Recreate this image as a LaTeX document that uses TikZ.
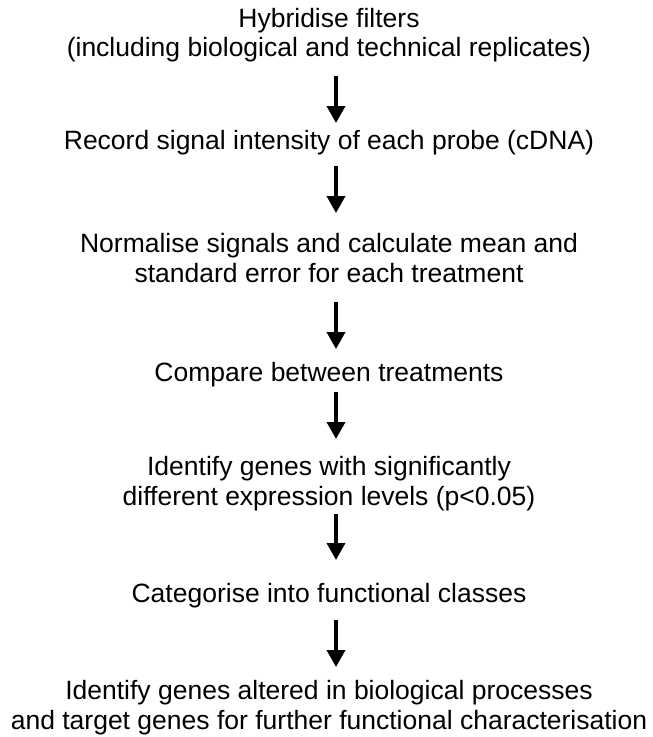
\documentclass[tikz,border=0pt]{standalone}
\usepackage{fontspec}
\setmainfont{Liberation Sans}
\usetikzlibrary{arrows.meta}
\tikzset{
  stepbox/.style={inner sep=0pt, anchor=base, align=center, font=\fontsize{26.5}{29.5}\selectfont},
  flow/.style={line width=3.5pt, -{Triangle[width=18pt,length=17pt]}}
}
\begin{document}
\begin{tikzpicture}[x=1pt,y=1pt]
\useasboundingbox (0,0) rectangle (653,-737);
\node[stepbox] (n1) at (329,-56.5) {Hybridise filters\\(including biological and technical replicates)};
\node[stepbox] (n2) at (329,-149) {Record signal intensity of each probe (cDNA)};
\node[stepbox] (n3) at (329,-282) {Normalise signals and calculate mean and\\standard error for each treatment};
\node[stepbox] (n4) at (329,-381) {Compare between treatments};
\node[stepbox] (n5) at (329,-505) {Identify genes with significantly\\different expression levels (p<0.05)};
\node[stepbox] (n6) at (329,-602) {Categorise into functional classes};
\node[stepbox] (n7) at (329,-729) {Identify genes altered in biological processes\\and target genes for further functional characterisation};
\foreach \a/\b/\s/\e in {n1/n2/19.5/26,n2/n3/17/69,n3/n4/20/32,n4/n5/11/66,n5/n6/9/42,n6/n7/18/62}
  \draw[flow] ([xshift=7pt,yshift=-\s pt]\a.base) -- ([xshift=7pt,yshift=\e pt]\b.base);
\end{tikzpicture}
\end{document}
